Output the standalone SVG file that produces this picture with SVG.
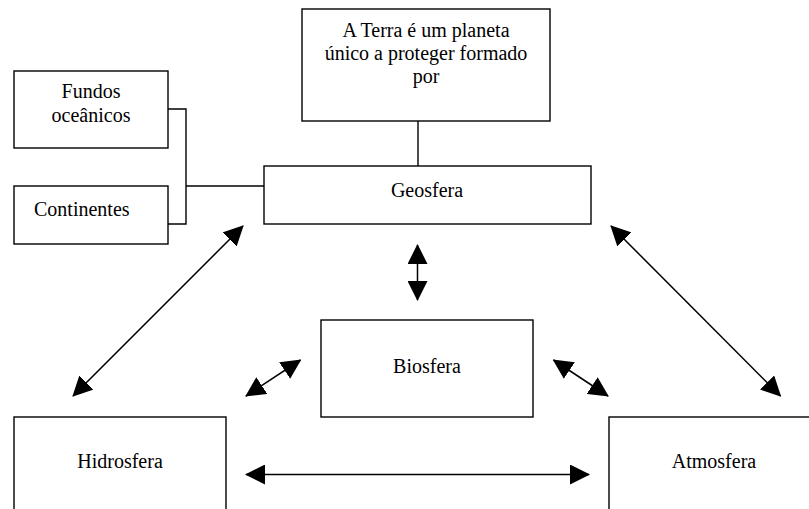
<svg xmlns="http://www.w3.org/2000/svg" width="809" height="509" viewBox="0 0 809 509">
<style>
.box{fill:#fff;stroke:#000;stroke-width:1.4}
.t{font-family:"Liberation Serif","Times New Roman",serif;font-size:20px;fill:#000}
.c{text-anchor:middle}
.ln{fill:none;stroke:#000;stroke-width:1.4}
.ar{fill:none;stroke:#000;stroke-width:1.5;marker-start:url(#ah);marker-end:url(#ah)}
</style>
<defs>
<marker id="ah" markerUnits="userSpaceOnUse" markerWidth="20" markerHeight="20" refX="19" refY="10" orient="auto-start-reverse" viewBox="0 0 20 20">
<path d="M0,0 L20,10 L0,20 z" fill="#000"/>
</marker>
</defs>
<rect width="809" height="509" fill="#fff"/>
<g id="connectors">
<line class="ln" x1="418" y1="121" x2="418" y2="166"/>
<polyline class="ln" points="168,109 186,109 186,224 168,224"/>
<line class="ln" x1="186" y1="186" x2="264" y2="186"/>
<line class="ar" x1="243" y1="226" x2="73" y2="396"/>
<line class="ar" x1="417.5" y1="245" x2="417.5" y2="300"/>
<line class="ar" x1="300.5" y1="360" x2="246" y2="396"/>
<line class="ar" x1="553.5" y1="360" x2="608" y2="396"/>
<line class="ar" x1="611" y1="226" x2="780.5" y2="396"/>
<line class="ar" x1="246" y1="474.5" x2="589" y2="474.5"/>
</g>
<g id="terra">
<rect class="box" x="302" y="9" width="248" height="112"/>
<text class="t c" x="426" y="37">A Terra é um planeta</text>
<text class="t c" x="426" y="60">único a proteger formado</text>
<text class="t c" x="426" y="83">por</text>
</g>
<g id="geosfera">
<rect class="box" x="264" y="166" width="327" height="58"/>
<text class="t c" x="427" y="197">Geosfera</text>
</g>
<g id="fundos">
<rect class="box" x="14" y="71" width="154" height="77"/>
<text class="t c" x="91" y="98">Fundos</text>
<text class="t c" x="91" y="122">oceânicos</text>
</g>
<g id="continentes">
<rect class="box" x="14" y="186" width="154" height="58"/>
<text class="t" x="34" y="216">Continentes</text>
</g>
<g id="biosfera">
<rect class="box" x="321" y="320" width="212" height="97"/>
<text class="t c" x="427" y="373">Biosfera</text>
</g>
<g id="hidrosfera">
<rect class="box" x="14" y="417" width="212" height="110"/>
<text class="t c" x="120" y="468">Hidrosfera</text>
</g>
<g id="atmosfera">
<rect class="box" x="609" y="417" width="211" height="110"/>
<text class="t c" x="714" y="468">Atmosfera</text>
</g>
</svg>
